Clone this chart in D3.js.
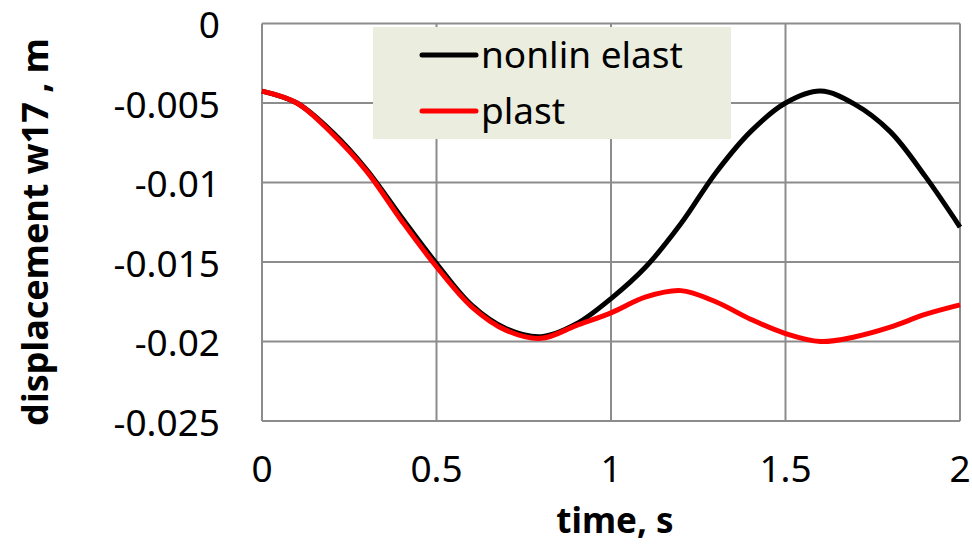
<!DOCTYPE html>
<meta charset="utf-8">
<script src="https://d3js.org/d3.v7.min.js"></script>
<style>
body { margin: 0; padding: 0; background: #fff; }
text { font-family: 'Noto Sans', 'Liberation Sans', Arial, sans-serif; fill: #000; }
</style>
<body>
<div id="chart"></div>
<script>
// time values (s)
var times = [0, 0.1, 0.2, 0.3, 0.4, 0.5, 0.6, 0.7, 0.8, 0.9, 1.0,
             1.1, 1.2, 1.3, 1.4, 1.5, 1.6, 1.7, 1.8, 1.9, 2.0];
// displacement w17 (m)
var nonlinElast = [-0.00425, -0.0050, -0.0068, -0.0092, -0.0122, -0.0151, -0.0177, -0.0192, -0.0197, -0.0189, -0.0173,
                   -0.0153, -0.0126, -0.0094, -0.0068, -0.0050, -0.00425, -0.0051, -0.0068, -0.0096, -0.0128];
var plast = [-0.00425, -0.0050, -0.0069, -0.0093, -0.0124, -0.0153, -0.0178, -0.0193, -0.0198, -0.0190, -0.0182,
             -0.0172, -0.0168, -0.0175, -0.0186, -0.0195, -0.0200, -0.0197, -0.0191, -0.0183, -0.0177];
var xTicks = [0, 0.5, 1, 1.5, 2];
var yTicks = [0, -0.005, -0.01, -0.015, -0.02, -0.025];
var seriesNames = ["nonlin elast", "plast"];
var seriesColors = ["#000000", "#ff0000"];

var W = 972, H = 545;
var margin = {top: 23.5, right: 12, bottom: 124, left: 262};
var width = W - margin.left - margin.right,
    height = H - margin.top - margin.bottom;

var svg = d3.select("#chart").append("svg")
    .attr("width", W).attr("height", H);
var g = svg.append("g")
    .attr("transform", "translate(" + margin.left + "," + margin.top + ")");

var x = d3.scaleLinear().domain([0, 2]).range([0, width]);
var y = d3.scaleLinear().domain([-0.025, 0]).range([height, 0]);

// gridlines
g.selectAll(".hgrid").data(yTicks).enter().append("line")
  .attr("x1", 0).attr("x2", width)
  .attr("y1", function(d) { return y(d); }).attr("y2", function(d) { return y(d); })
  .attr("stroke", "#8c8c8c").attr("stroke-width", 2);
g.selectAll(".vgrid").data(xTicks).enter().append("line")
  .attr("y1", 0).attr("y2", height)
  .attr("x1", function(d) { return x(d); }).attr("x2", function(d) { return x(d); })
  .attr("stroke", "#8c8c8c").attr("stroke-width", 2);

// tick labels
g.selectAll(".ylab").data(yTicks).enter().append("text")
  .attr("x", -42).attr("y", function(d) { return y(d) + 2; })
  .attr("dy", "0.35em").attr("text-anchor", "end")
  .style("font-size", "37px")
  .text(function(d) { return d === 0 ? "0" : d3.format("")(d).replace("−", "-"); });
g.selectAll(".xlab").data(xTicks).enter().append("text")
  .attr("x", function(d) { return x(d); }).attr("y", height + 48)
  .attr("dy", "0.35em").attr("text-anchor", "middle")
  .style("font-size", "37px")
  .text(function(d) { return d; });

// axis titles
svg.append("text")
  .attr("x", margin.left + width / 2 + 4).attr("y", 521)
  .attr("dy", "0.35em").attr("text-anchor", "middle")
  .style("font-size", "35px").style("font-weight", "bold")
  .text("time, s");
svg.append("text")
  .attr("transform", "translate(35," + 232 + ") rotate(-90)")
  .attr("dy", "0.35em").attr("text-anchor", "middle")
  .style("font-size", "36px").style("font-weight", "bold")
  .text("displacement w17 , m");

// lines
var line = d3.line()
  .x(function(d) { return x(d[0]); })
  .y(function(d) { return y(d[1]); })
  .curve(d3.curveCatmullRom.alpha(0.5));

[nonlinElast, plast].forEach(function(vals, i) {
  g.append("path")
    .datum(times.map(function(t, j) { return [t, vals[j]]; }))
    .attr("fill", "none")
    .attr("stroke", seriesColors[i])
    .attr("stroke-width", 5)
    .attr("stroke-linejoin", "round")
    .attr("d", line);
});

// legend
var legend = svg.append("g").attr("transform", "translate(373,27)");
legend.append("rect")
  .attr("width", 358).attr("height", 112)
  .attr("fill", "#ebeedf");
seriesNames.forEach(function(name, i) {
  legend.append("line")
    .attr("x1", 49).attr("x2", 103)
    .attr("y1", 28 + i * 56).attr("y2", 28 + i * 56)
    .attr("stroke", seriesColors[i]).attr("stroke-width", 5)
    .attr("stroke-linecap", "round");
  legend.append("text")
    .attr("x", 108).attr("y", 28 + i * 56)
    .attr("dy", "0.35em")
    .style("font-size", "37px")
    .text(name);
});
</script>
</body>
